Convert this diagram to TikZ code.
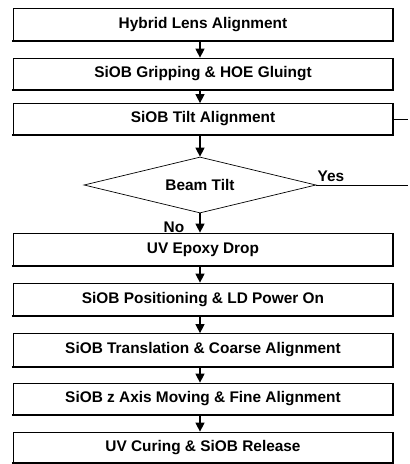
\documentclass[tikz,border=0pt]{standalone}
\usepackage{fontspec}
\setmainfont{Liberation Sans}
\usetikzlibrary{shapes.geometric,arrows.meta}
\begin{document}
\begin{tikzpicture}[x=1pt,y=-1pt,
  stepbox/.style={draw, line width=0.7pt, minimum width=380pt, minimum height=32pt, inner sep=0pt,
    font=\fontsize{15.4}{18}\selectfont\bfseries},
  decide/.style={draw, shape=diamond, line width=0.7pt, minimum width=232pt, minimum height=56pt, aspect=4.14, inner sep=0pt,
    font=\fontsize{15.4}{18}\selectfont\bfseries},
  flow/.style={line width=1.1pt, -{Triangle[length=9pt,width=9pt]}},
  lbl/.style={font=\fontsize{15.4}{18}\selectfont\bfseries, inner sep=0pt},
  shadowline/.style={line width=1.8pt}]
\useasboundingbox (0,0) rectangle (410,464);
\node[stepbox] (b1) at (203,24.5) {Hybrid Lens Alignment};
\node[stepbox] (b2) at (203,74) {SiOB Gripping \& HOE Gluingt};
\node[stepbox, minimum height=31pt] (b3) at (203,119) {SiOB Tilt Alignment};
\node[decide] (d) at (200,185) {Beam Tilt};
\node[stepbox, minimum height=33pt] (b4) at (203,249.5) {UV Epoxy Drop};
\node[stepbox, minimum height=33pt] (b5) at (203,299.5) {SiOB Positioning \& LD Power On};
\node[stepbox, minimum height=33pt] (b6) at (203,350) {SiOB Translation \& Coarse Alignment};
\node[stepbox] (b7) at (203,399) {SiOB z Axis Moving \& Fine Alignment};
\node[stepbox, minimum height=31pt] (b8) at (203,447.5) {UV Curing \& SiOB Release};
\foreach \n in {b1,b2,b3,b4,b5,b6,b7,b8}
  \draw[shadowline] ([xshift=-0.9pt]\n.south west) -- (\n.south east) -- (\n.north east);
\draw[flow] (b1.south -| 200,0) -- (b2.north -| 200,0);
\draw[flow] (b2.south -| 200,0) -- (b3.north -| 200,0);
\draw[flow] (b3.south -| 200,0) -- (d.north);
\draw[flow] (d.south) -- (b4.north -| 200,0);
\draw[flow] (b4.south -| 200,0) -- (b5.north -| 200,0);
\draw[flow] (b5.south -| 200,0) -- (b6.north -| 200,0);
\draw[flow] (b6.south -| 200,0) -- (b7.north -| 200,0);
\draw[flow] (b7.south -| 200,0) -- (b8.north -| 200,0);
\coordinate (e3) at (408,119);
\coordinate (ed) at (408,183);
\draw[line width=1pt] (b3.east) -- (e3);
\draw[line width=1pt] (d.east) -- (ed |- d.east);
\node[lbl] (yes) at (331,176) {Yes};
\node[lbl] (no) at (174,227) {No};
\end{tikzpicture}
\end{document}
